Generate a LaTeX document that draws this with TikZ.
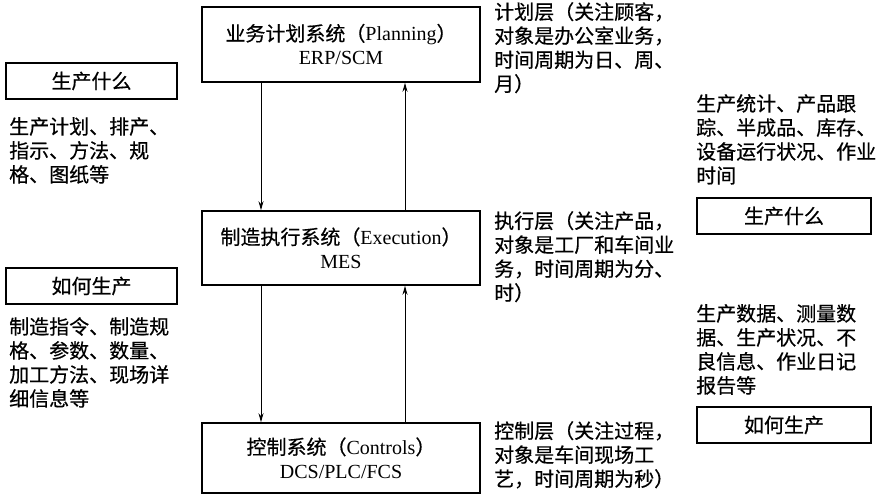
\documentclass[tikz,border=0pt]{standalone}
\usepackage{fontspec}
\setmainfont{Liberation Serif}
\newfontfamily\cjk[FakeBold=0.5]{Noto Sans CJK SC}
\usetikzlibrary{arrows.meta}
\begin{document}
\begin{tikzpicture}[x=1pt,y=-1pt,
  font=\fontsize{20}{24}\selectfont\cjk,
  sysbox/.style={draw, line width=1.6pt, minimum width=278pt, inner sep=0pt, align=center},
  tagbox/.style={draw, line width=1.3pt, minimum height=36pt, inner sep=0pt},
  note/.style={align=left, anchor=north west, inner sep=0pt},
  flow/.style={-{Stealth[length=9pt,width=5pt]}, line width=0.9pt}]
\useasboundingbox (0,0) rectangle (881,498);

\node[sysbox, minimum height=75pt] (plan) at (341,44.5) {业务计划系统（{\rmfamily Planning}）\\{\rmfamily ERP/SCM}};
\node[sysbox, minimum height=74pt] (mes) at (341,248) {制造执行系统（{\rmfamily Execution}）\\{\rmfamily MES}};
\node[sysbox, minimum height=70pt] (ctrl) at (341,458) {控制系统（{\rmfamily Controls}）\\{\rmfamily DCS/PLC/FCS}};

\coordinate (xl) at (261,0);
\coordinate (xr) at (405,0);
\draw[flow] (plan.south -| xl) -- (mes.north -| xl);
\draw[flow] (mes.north -| xr) -- (plan.south -| xr);
\draw[flow] (mes.south -| xl) -- (ctrl.north -| xl);
\draw[flow] (ctrl.north -| xr) -- (mes.south -| xr);

\node[tagbox, minimum width=171pt] (lt1) at (91.5,81) {生产什么};
\node[tagbox, minimum width=171pt] (lt2) at (91.5,286) {如何生产};
\node[tagbox, minimum width=174pt] (rt1) at (784,216) {生产什么};
\node[tagbox, minimum width=174pt] (rt2) at (784,425) {如何生产};

\node[note] (ln1) at (9,117) {生产计划、排产、\\指示、方法、规\\格、图纸等};
\node[note] (ln2) at (9,317) {制造指令、制造规\\格、参数、数量、\\加工方法、现场详\\细信息等};
\node[note] (rn1) at (696,94) {生产统计、产品跟\\踪、半成品、库存、\\设备运行状况、作业\\时间};
\node[note] (rn2) at (696,304) {生产数据、测量数\\据、生产状况、不\\良信息、作业日记\\报告等};

\node[note] (pn) at (494,2) {计划层（关注顾客，\\对象是办公室业务，\\时间周期为日、周、\\月）};
\node[note] (mn) at (494,211) {执行层（关注产品，\\对象是工厂和车间业\\务，时间周期为分、\\时）};
\node[note] (cn) at (494,421) {控制层（关注过程，\\对象是车间现场工\\艺，时间周期为秒）};
\end{tikzpicture}
\end{document}
